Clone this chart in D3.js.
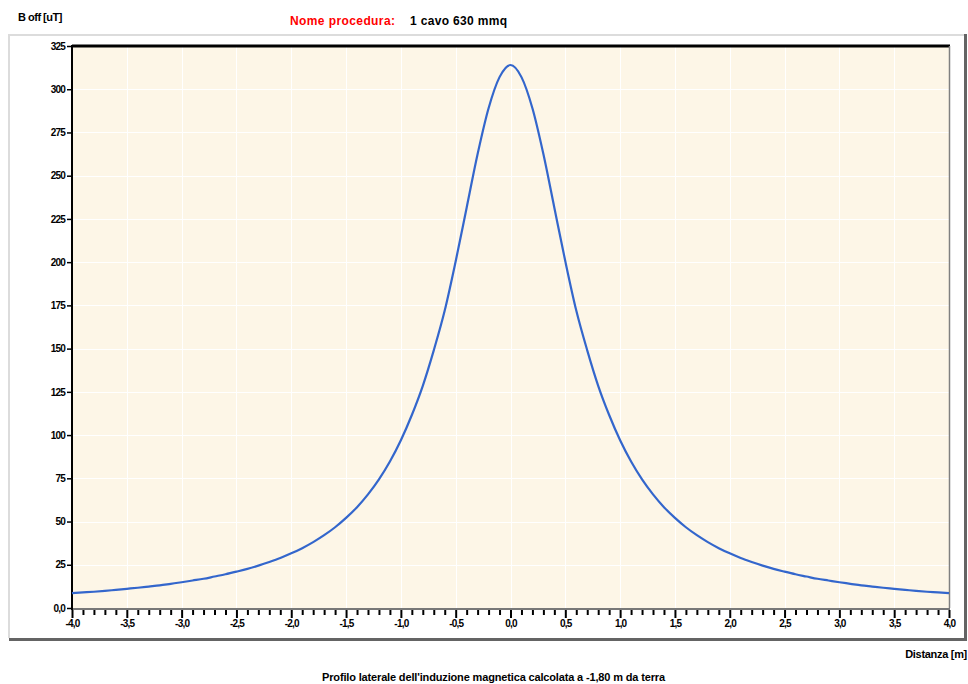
<!DOCTYPE html>
<html>
<head>
<meta charset="utf-8">
<script src="https://cdn.jsdelivr.net/npm/d3@7"></script>
<style>
  html, body { margin: 0; padding: 0; background: #fff; }
  svg { display: block; }
  text { font-family: "Liberation Sans", Arial, sans-serif; font-weight: bold; fill: #000; }
</style>
</head>
<body>
<svg id="chart" width="968" height="684"></svg>
<script>
// Distance from the cable axis [m]
const distanza = [
  -4.0, -3.9, -3.8, -3.7, -3.6, -3.5, -3.4, -3.3, -3.2, -3.1,
  -3.0, -2.9, -2.8, -2.7, -2.6, -2.5, -2.4, -2.3, -2.2, -2.1,
  -2.0, -1.9, -1.8, -1.7, -1.6, -1.5, -1.4, -1.3, -1.2, -1.1,
  -1.0, -0.9, -0.8, -0.7, -0.6, -0.5, -0.4, -0.3, -0.2, -0.1,
   0.0,  0.1,  0.2,  0.3,  0.4,  0.5,  0.6,  0.7,  0.8,  0.9,
   1.0,  1.1,  1.2,  1.3,  1.4,  1.5,  1.6,  1.7,  1.8,  1.9,
   2.0,  2.1,  2.2,  2.3,  2.4,  2.5,  2.6,  2.7,  2.8,  2.9,
   3.0,  3.1,  3.2,  3.3,  3.4,  3.5,  3.6,  3.7,  3.8,  3.9,  4.0
];
// Magnetic induction B off [uT]
const bOff = [
    8.6,   9.0,   9.4,   9.9,  10.5,  11.1,  11.7,  12.4,  13.1,  14.0,
   14.9,  15.9,  16.9,  18.2,  19.5,  21.0,  22.6,  24.5,  26.6,  28.9,
   31.6,  34.6,  38.1,  42.1,  46.7,  52.1,  58.3,  65.7,  74.4,  84.7,
   97.0, 111.6, 128.5, 149.0, 172.0, 200.5, 231.5, 262.5, 289.0, 307.0,
  314.0, 307.0, 289.0, 262.5, 231.5, 200.5, 172.0, 149.0, 128.5, 111.6,
   97.0,  84.7,  74.4,  65.7,  58.3,  52.1,  46.7,  42.1,  38.1,  34.6,
   31.6,  28.9,  26.6,  24.5,  22.6,  21.0,  19.5,  18.2,  16.9,  15.9,
   14.9,  14.0,  13.1,  12.4,  11.7,  11.1,  10.5,   9.9,   9.4,   9.0,   8.6
];
// Axis ticks and labels
const yTicks = [0, 25, 50, 75, 100, 125, 150, 175, 200, 225, 250, 275, 300, 325];
const yTickLabels = ["0,0", "25", "50", "75", "100", "125", "150", "175", "200", "225", "250", "275", "300", "325"];
const xMajorTicks = [-4, -3.5, -3, -2.5, -2, -1.5, -1, -0.5, 0, 0.5, 1, 1.5, 2, 2.5, 3, 3.5, 4];
const xMinorTicks = d3.range(-40, 41).filter(i => i % 5 !== 0).map(i => i / 10);

const svg = d3.select("#chart");

// Outer panel with raised border
svg.append("rect").attr("x", 8).attr("y", 34).attr("width", 959).attr("height", 606).attr("fill", "#fff");
svg.append("line").attr("x1", 8).attr("x2", 965).attr("y1", 35).attr("y2", 35).attr("stroke", "#dcdcdc").attr("stroke-width", 2);
svg.append("line").attr("x1", 9).attr("x2", 9).attr("y1", 34).attr("y2", 638).attr("stroke", "#dcdcdc").attr("stroke-width", 2);
svg.append("line").attr("x1", 965.5).attr("x2", 965.5).attr("y1", 34).attr("y2", 641).attr("stroke", "#646464").attr("stroke-width", 3);
svg.append("line").attr("x1", 9).attr("x2", 967).attr("y1", 639.5).attr("y2", 639.5).attr("stroke", "#646464").attr("stroke-width", 3);

const plot = { left: 72, right: 949, top: 46, bottom: 608 };

const x = d3.scaleLinear().domain([-4, 4]).range([plot.left, plot.right]);
const y = d3.scaleLinear().domain([0, 325]).range([plot.bottom, plot.top]);

// Plot background
svg.append("rect")
  .attr("x", plot.left).attr("y", plot.top)
  .attr("width", plot.right - plot.left).attr("height", plot.bottom - plot.top)
  .attr("fill", "#fdf6e7");

// White grid lines
svg.append("g").selectAll("line").data(yTicks.slice(1, -1)).join("line")
  .attr("x1", plot.left).attr("x2", plot.right)
  .attr("y1", d => Math.round(y(d)) + 0.5).attr("y2", d => Math.round(y(d)) + 0.5)
  .attr("stroke", "#ffffff").attr("stroke-width", 1);
svg.append("g").selectAll("line").data(xMajorTicks.slice(1, -1)).join("line")
  .attr("x1", d => Math.round(x(d)) + 0.5).attr("x2", d => Math.round(x(d)) + 0.5)
  .attr("y1", plot.top).attr("y2", plot.bottom)
  .attr("stroke", "#ffffff").attr("stroke-width", 1);

// Frame: black top, grey right and bottom, black left axis
svg.append("line").attr("x1", plot.left).attr("x2", plot.right + 1).attr("y1", 46).attr("y2", 46)
  .attr("stroke", "#000").attr("stroke-width", 3);
svg.append("line").attr("x1", plot.right + 0.5).attr("x2", plot.right + 0.5).attr("y1", plot.top).attr("y2", plot.bottom)
  .attr("stroke", "#808080").attr("stroke-width", 1.5);
svg.append("line").attr("x1", plot.left).attr("x2", plot.right + 1).attr("y1", 609).attr("y2", 609)
  .attr("stroke", "#787878").attr("stroke-width", 2);
svg.append("line").attr("x1", 72).attr("x2", 72).attr("y1", 45).attr("y2", 610)
  .attr("stroke", "#000").attr("stroke-width", 2);

// Y axis
const yAxis = d3.axisLeft(y).tickValues(yTicks).tickSize(5).tickPadding(2)
  .tickFormat((d, i) => yTickLabels[i]);
const gy = svg.append("g").attr("transform", `translate(${plot.left},0)`).call(yAxis);
gy.select(".domain").remove();
gy.selectAll(".tick line").attr("stroke", "#000").attr("stroke-width", 1.5);
gy.selectAll(".tick text").style("font-size", "10px").attr("letter-spacing", "-0.8px");

// X axis: major ticks with labels, minor ticks every 0.1
const xAxis = d3.axisBottom(x).tickValues(xMajorTicks).tickSize(8).tickPadding(2)
  .tickFormat(d => d3.format(".1f")(d).replace("−", "-").replace(".", ","));
const gx = svg.append("g").attr("transform", `translate(0,${plot.bottom + 2})`).call(xAxis);
gx.select(".domain").remove();
gx.selectAll(".tick line").attr("stroke", "#000").attr("stroke-width", 2);
gx.selectAll(".tick text").style("font-size", "10px").attr("letter-spacing", "-0.8px");

const xMinor = d3.axisBottom(x).tickValues(xMinorTicks).tickSize(5).tickFormat("");
const gxm = svg.append("g").attr("transform", `translate(0,${plot.bottom + 2})`).call(xMinor);
gxm.select(".domain").remove();
gxm.selectAll(".tick line").attr("stroke", "#000").attr("stroke-width", 2);

// Induction profile
const line = d3.line().x((d, i) => x(distanza[i])).y(d => y(d)).curve(d3.curveMonotoneX);
svg.append("path").datum(bOff)
  .attr("d", line)
  .attr("fill", "none")
  .attr("stroke", "#3366cc")
  .attr("stroke-width", 2.2)
  .attr("stroke-linejoin", "round");

// Texts
svg.append("text").attr("x", 18).attr("y", 21).style("font-size", "11px").attr("letter-spacing", "-0.5px").text("B off [uT]");
svg.append("text").attr("x", 290).attr("y", 25).style("font-size", "12px")
  .style("fill", "#ff0000").attr("textLength", 105).text("Nome procedura:");
svg.append("text").attr("x", 410).attr("y", 25).style("font-size", "12px").attr("textLength", 97).text("1 cavo 630 mmq");
svg.append("text").attr("x", 967).attr("y", 658).attr("text-anchor", "end").style("font-size", "11px").attr("letter-spacing", "-0.3px").text("Distanza [m]");
svg.append("text").attr("x", 322).attr("y", 681).style("font-size", "11px").attr("textLength", 343).text("Profilo laterale dell'induzione magnetica calcolata a -1,80 m da terra");
</script>
</body>
</html>
